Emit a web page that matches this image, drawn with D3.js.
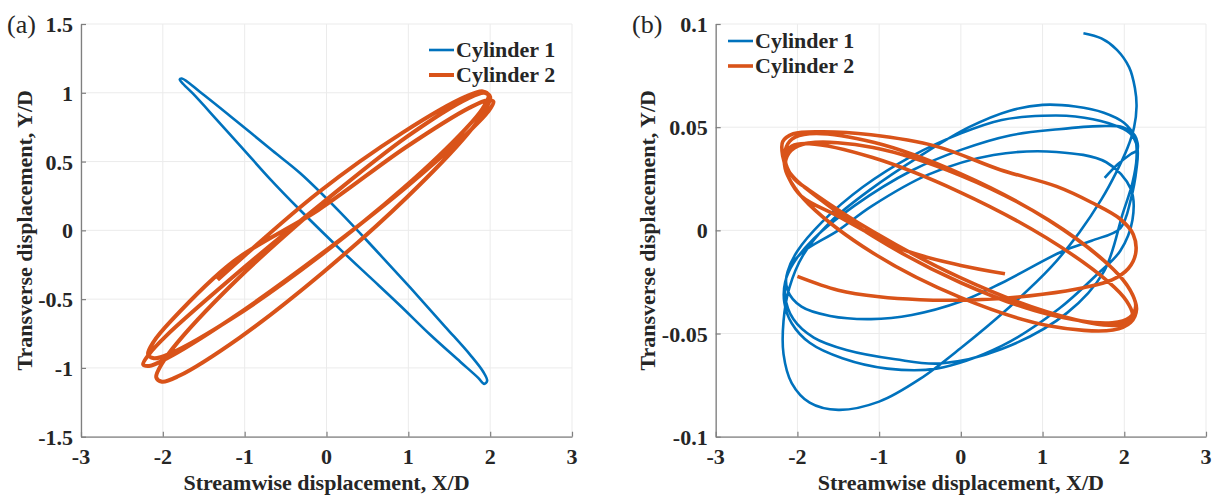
<!DOCTYPE html>
<html>
<head>
<meta charset="utf-8">
<script src="https://cdn.jsdelivr.net/npm/d3@7"></script>
<style>
  html, body { margin: 0; padding: 0; background: #fff; }
  svg { display: block; }
  text { font-family: "Liberation Serif", "Times New Roman", serif; fill: #262626; }
  .ticklab { font-size: 22px; font-weight: bold; }
</style>
</head>
<body>
<svg id="fig" width="1218" height="498"></svg>
<script>
// ---- axis ticks ----
const xTicks = [-3, -2, -1, 0, 1, 2, 3];
const xTickLabels = ["-3", "-2", "-1", "0", "1", "2", "3"];
const yTicksA = [-1.5, -1, -0.5, 0, 0.5, 1, 1.5];
const yTickLabelsA = ["-1.5", "-1", "-0.5", "0", "0.5", "1", "1.5"];
const yTicksB = [-0.1, -0.05, 0, 0.05, 0.1];
const yTickLabelsB = ["-0.1", "-0.05", "0", "0.05", "0.1"];

const seriesNames = ["Cylinder 1", "Cylinder 2"];
const panelTags = ["(a)", "(b)"];
const xTitle = "Streamwise displacement, X/D";
const yTitle = "Transverse displacement, Y/D";

// ---- (a) orbit of cylinder 1: closed loop [X/D, Y/D] ----
const cyl1A = [
  [-1.768, 1.104], [-1.537, 1.002], [-1.171, 0.828], [-0.662, 0.580], [-0.317, 0.413],
  [0.171, 0.129], [0.598, -0.141], [1.024, -0.417], [1.451, -0.701], [1.756, -0.905],
  [1.915, -1.028], [1.963, -1.094], [1.927, -1.116], [1.854, -1.072], [1.634, -0.955],
  [1.268, -0.759], [0.902, -0.548], [0.537, -0.344], [0.183, -0.147], [-0.317, 0.144],
  [-0.683, 0.369], [-1.012, 0.587], [-1.354, 0.813], [-1.634, 0.995], [-1.768, 1.075],
  [-1.793, 1.097]
];

// ---- (a) orbit of cylinder 2 ----
const cyl2A = [
  [-1.33, -0.36], [-0.10, 0.275], [0.94, 0.714], [1.70, 0.972], [1.91, 1.01], [1.98, 0.981],
  [1.91, 0.888], [1.70, 0.738], [0.94, 0.307], [-0.10, -0.195], [-1.14, -0.634], [-1.90, -0.892],
  [-2.11, -0.93], [-2.18, -0.901], [-2.11, -0.808], [-1.90, -0.658], [-1.14, -0.227],
  [-0.10, 0.148], [0.97, 0.604], [1.75, 0.892], [1.97, 0.946], [2.04, 0.935], [1.97, 0.859],
  [1.75, 0.723], [0.97, 0.312], [-0.10, -0.188], [-1.17, -0.644], [-1.953, -0.932],
  [-2.167, -0.986], [-2.24, -0.975], [-2.167, -0.899], [-1.953, -0.763], [-1.17, -0.352],
  [-0.04, 0.204], [0.98, 0.679], [1.73, 0.959], [1.93, 1.0], [2.00, 0.969], [1.93, 0.868],
  [1.73, 0.705], [0.98, 0.239], [-0.04, -0.304], [-1.06, -0.779], [-1.807, -1.059],
  [-2.01, -1.10], [-2.08, -1.069], [-2.01, -0.968], [-1.807, -0.805], [-1.06, -0.339],
  [-0.04, 0.204]
];

// ---- (b) orbit of cylinder 1 ----
const cyl1B = [
  [1.50, 0.0955], [1.72, 0.0930], [1.91, 0.0875], [2.06, 0.0790], [2.13, 0.0690], [2.15, 0.0600],
  [2.12, 0.0500], [2.04, 0.0400], [1.90, 0.0280], [1.72, 0.0150], [1.45, -0.0010], [1.10, -0.0180],
  [0.60, -0.0370], [0.00, -0.0570], [-0.50, -0.0720], [-1.00, -0.0830], [-1.50, -0.0870],
  [-1.85, -0.0835], [-2.07, -0.0740], [-2.17, -0.0600], [-2.17, -0.0440], [-2.10, -0.0280],
  [-1.93, -0.0120], [-1.60, 0.0040], [-1.10, 0.0200], [-0.50, 0.0360], [0.10, 0.0500],
  [0.60, 0.0580], [1.00, 0.0608], [1.40, 0.0600], [1.75, 0.0570], [2.00, 0.0520], [2.13, 0.0450],
  [2.15, 0.0350], [2.10, 0.0230], [1.98, 0.0080],
  [1.75, -0.0200], [1.30, -0.0400], [0.50, -0.0575], [-0.25, -0.0645], [-0.80, -0.0625],
  [-1.40, -0.0580], [-1.80, -0.0520], [-2.05, -0.0430], [-2.15, -0.0320], [-2.12, -0.0200],
  [-2.00, -0.0100],
  [-1.70, 0.0040], [-1.20, 0.0210], [-0.60, 0.0360], [0.00, 0.0470], [0.50, 0.0535], [1.00, 0.0555],
  [1.40, 0.0552], [1.80, 0.0520], [2.07, 0.0470], [2.16, 0.0400], [2.15, 0.0300], [2.08, 0.0150],
  [1.95, 0.0010],
  [1.60, -0.0050], [1.25, -0.0100], [0.50, -0.0255], [0.00, -0.0345], [-0.60, -0.0410],
  [-1.10, -0.0430], [-1.60, -0.0415], [-1.95, -0.0370], [-2.12, -0.0290], [-2.12, -0.0200],
  [-1.95, -0.0110], [-1.50, 0.0000], [-1.10, 0.0115], [-0.40, 0.0270], [0.40, 0.0365],
  [1.17, 0.0380], [1.78, 0.0330], [2.08, 0.0200], [2.10, 0.0050],
  [1.95, -0.0100], [1.65, -0.0220], [1.20, -0.0380], [0.50, -0.0560], [-0.30, -0.0670],
  [-0.90, -0.0670], [-1.45, -0.0620], [-1.85, -0.0545], [-2.07, -0.0450], [-2.16, -0.0350],
  [-2.15, -0.0250], [-2.05, -0.0160],
  [-1.80, -0.0040], [-1.30, 0.0120], [-0.60, 0.0290], [0.00, 0.0390], [0.60, 0.0460],
  [1.20, 0.0490], [1.70, 0.0505], [1.98, 0.0500], [2.13, 0.0460], [2.16, 0.0390],
  [2.08, 0.0370], [1.92, 0.0320], [1.76, 0.0254]
];

// ---- (b) orbit of cylinder 2 ----
const cyl2B = [
  [-2.00, -0.0223], [-1.50, -0.0290], [-1.00, -0.0322], [-0.50, -0.0336], [0.00, -0.0338],
  [0.50, -0.0330], [1.00, -0.0310], [1.50, -0.0278], [1.85, -0.0240], [2.05, -0.0185],
  [2.14, -0.0110], [2.11, -0.0020], [1.95, 0.0055], [1.60, 0.0135], [1.17, 0.0213],
  [0.48, 0.0294], [-0.30, 0.0407], [-1.10, 0.0463], [-1.70, 0.0478], [-2.05, 0.0468],
  [-2.18, 0.0430], [-2.18, 0.0360], [-2.13, 0.0300],
  [-2.030, 0.0250], [-1.853, 0.0190], [-1.07, -0.0030], [0.00, -0.0254], [1.07, -0.0407],
  [1.853, -0.0448], [2.067, -0.0422], [2.14, -0.0367], [2.067, -0.0286], [1.853, -0.0184],
  [1.07, 0.0050], [0.00, 0.0274], [-1.07, 0.0427], [-1.853, 0.0468], [-2.067, 0.0442],
  [-2.15, 0.0387], [-2.14, 0.0320],
  [-2.040, 0.0250], [-1.856, 0.0195], [-1.08, -0.0005], [-0.02, -0.0227], [1.04, -0.0393],
  [1.816, -0.0460], [2.028, -0.0449], [2.10, -0.0409], [2.028, -0.0342], [1.816, -0.0253],
  [1.04, -0.0035], [-0.02, 0.0187], [-1.08, 0.0353], [-1.856, 0.0420], [-2.068, 0.0409],
  [-2.15, 0.0369], [-2.15, 0.0300],
  [-2.077, 0.0234], [-1.862, 0.0127], [-1.075, -0.0110], [0.00, -0.0326], [1.075, -0.0462],
  [1.862, -0.0483], [2.077, -0.0447], [2.15, -0.0382], [2.077, -0.0294], [1.862, -0.0187],
  [1.075, 0.0050], [0.00, 0.0266], [-1.075, 0.0402], [-1.862, 0.0423], [-2.077, 0.0387],
  [-2.15, 0.0322],
  [-2.10, 0.0250], [-1.95, 0.0165], [-1.50, 0.0068], [-0.71, -0.0093], [0.00, -0.0170],
  [0.54, -0.0210]
];

const colors = ["#0072BD", "#D95319"];

const svg = d3.select("#fig");

function drawPanel(opt) {
  const x = d3.scaleLinear().domain([-3, 3]).range([opt.left, opt.right]);
  const y = d3.scaleLinear().domain(opt.yDomain).range([opt.bottom, opt.top]);
  const g = svg.append("g");

  // grid
  g.append("g").selectAll("line").data(xTicks).join("line")
    .attr("x1", d => x(d)).attr("x2", d => x(d))
    .attr("y1", opt.top).attr("y2", opt.bottom)
    .attr("stroke", "#ebebeb").attr("stroke-width", 1);
  g.append("g").selectAll("line").data(opt.yTicks).join("line")
    .attr("x1", opt.left).attr("x2", opt.right)
    .attr("y1", d => y(d)).attr("y2", d => y(d))
    .attr("stroke", "#ebebeb").attr("stroke-width", 1);

  // trajectories
  const lineOpen = d3.line().x(d => x(d[0])).y(d => y(d[1])).curve(d3.curveCatmullRom.alpha(0.5));
  const lineClosed = d3.line().x(d => x(d[0])).y(d => y(d[1])).curve(d3.curveCatmullRomClosed.alpha(0.5));
  opt.series.forEach((s, i) => {
    g.append("path")
      .attr("d", (s.closed ? lineClosed : lineOpen)(s.data))
      .attr("fill", "none")
      .attr("stroke", colors[i])
      .attr("stroke-width", s.width)
      .attr("stroke-linejoin", "round")
      .attr("stroke-linecap", "butt");
  });

  // axis lines and inward ticks (labels placed separately below)
  const ax = g.append("g").attr("transform", `translate(0,${opt.bottom})`)
    .call(d3.axisBottom(x).tickValues(xTicks).tickFormat("").tickSizeInner(-5).tickSizeOuter(0));
  const ay = g.append("g").attr("transform", `translate(${opt.left},0)`)
    .call(d3.axisLeft(y).tickValues(opt.yTicks).tickFormat("").tickSizeInner(-5).tickSizeOuter(0));
  [ax, ay].forEach(a => {
    a.select(".domain").attr("stroke", "#7f7f7f").attr("stroke-width", 1.3);
    a.selectAll(".tick line").attr("stroke", "#7f7f7f").attr("stroke-width", 1.2);
    a.selectAll(".tick text").remove();
  });

  // tick labels
  g.append("g").selectAll("text").data(xTicks).join("text")
    .attr("class", "ticklab")
    .attr("x", d => x(d)).attr("y", opt.bottom + 27)
    .attr("text-anchor", "middle")
    .text((d, i) => xTickLabels[i]);
  g.append("g").selectAll("text").data(opt.yTicks).join("text")
    .attr("class", "ticklab")
    .attr("x", opt.left - 8).attr("y", d => y(d) + 8)
    .attr("text-anchor", "end")
    .text((d, i) => opt.yTickLabels[i]);

  // axis titles
  g.append("text")
    .attr("x", (opt.left + opt.right) / 2).attr("y", 490)
    .attr("text-anchor", "middle")
    .style("font-size", "22px").style("font-weight", "bold")
    .text(xTitle);
  g.append("text")
    .attr("transform", `translate(${opt.left - opt.yTitleOff},${(opt.top + opt.bottom) / 2}) rotate(-90)`)
    .attr("text-anchor", "middle")
    .style("font-size", "22px").style("font-weight", "bold")
    .text(yTitle);

  // panel tag
  g.append("text").attr("x", opt.tagX).attr("y", 33)
    .style("font-size", "26px").text(opt.tag);

  // legend
  const lg = g.append("g").attr("transform", `translate(${opt.legX},${opt.legY})`);
  seriesNames.forEach((name, i) => {
    const row = lg.append("g").attr("transform", `translate(0,${i * 25})`);
    row.append("line").attr("x1", 0).attr("x2", 25).attr("y1", 0).attr("y2", 0)
      .attr("stroke", colors[i]).attr("stroke-width", opt.series[i].width);
    row.append("text").attr("x", 27).attr("y", 0).attr("dy", "0.33em")
      .style("font-size", "22px").style("font-weight", "bold").text(name);
  });
}

drawPanel({
  left: 81, right: 572, top: 24, bottom: 436.7,
  yDomain: [-1.5, 1.5], yTicks: yTicksA, yTickLabels: yTickLabelsA,
  series: [{ data: cyl1A, width: 2.6, closed: true }, { data: cyl2A, width: 4 }],
  tag: panelTags[0], tagX: 7, legX: 429, legY: 50, yTitleOff: 49
});

drawPanel({
  left: 715.7, right: 1206, top: 24, bottom: 436.7,
  yDomain: [-0.1, 0.1], yTicks: yTicksB, yTickLabels: yTickLabelsB,
  series: [{ data: cyl1B, width: 2.6 }, { data: cyl2B, width: 3.6 }],
  tag: panelTags[1], tagX: 632, legX: 728, legY: 41, yTitleOff: 61
});
</script>
</body>
</html>
